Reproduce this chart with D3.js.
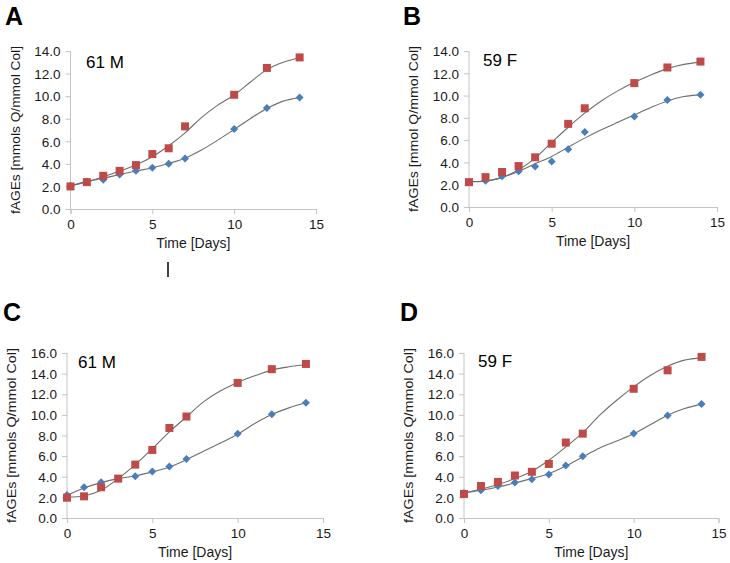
<!DOCTYPE html>
<html><head><meta charset="utf-8">
<script src="https://cdn.jsdelivr.net/npm/d3@7"></script>
<style>body{margin:0;background:#fff}svg{display:block}text{font-family:"Liberation Sans",Arial,sans-serif}</style>
</head><body>
<svg id="c" width="730" height="563"></svg>
<script>
const days = [0,1,2,3,4,5,6,7,10,12,14];
const fitDays = [0,1,2,3,4,5,6,7,8,9,10,11,12,13,14];
const xTicks = [0,5,10,15];
const yTitle = "fAGEs [mmols Q/mmol Col]";
const yTitleB = "fAGEs [mmol Q/mmol Col]";
const xTitle = "Time [Days]";

const aRed  = [2.0, 2.38, 2.94, 3.38, 3.89, 4.87, 5.38, 7.32, 10.12, 12.5, 13.43];
const aBlue = [2.07, 2.44, 2.6, 3.05, 3.38, 3.65, 4.01, 4.48, 7.08, 8.95, 9.88];
const aRedFit  = [2.06, 2.4, 2.86, 3.35, 3.9, 4.63, 5.6, 6.75, 8.1, 9.2, 10.1, 11.25, 12.35, 13.0, 13.4];
const aBlueFit = [2.06, 2.45, 2.72, 3.05, 3.36, 3.66, 4.04, 4.5, 5.22, 6.1, 7.05, 8.02, 8.91, 9.56, 9.87];

const bRed  = [2.23, 2.68, 3.14, 3.67, 4.46, 5.68, 7.46, 8.86, 11.12, 12.52, 13.05];
const bBlue = [2.25, 2.36, 2.75, 3.21, 3.63, 4.08, 5.19, 6.73, 8.13, 9.61, 10.08];
const bRedFit  = [2.3, 2.31, 2.66, 3.34, 4.39, 5.79, 7.16, 8.42, 9.52, 10.42, 11.19, 11.85, 12.42, 12.8, 13.0];
const bBlueFit = [2.3, 2.32, 2.66, 3.19, 3.88, 4.54, 5.37, 6.18, 6.93, 7.61, 8.27, 8.93, 9.52, 9.91, 10.06];

const cRed  = [1.97, 2.1, 2.98, 3.82, 5.18, 6.6, 8.73, 9.84, 13.1, 14.43, 14.94];
const cBlue = [2.22, 2.99, 3.46, 3.83, 4.06, 4.5, 4.99, 5.72, 8.17, 10.06, 11.18];
const cRedFit  = [2.04, 2.14, 2.69, 3.82, 5.18, 6.73, 8.35, 9.81, 11.26, 12.33, 13.14, 13.79, 14.34, 14.66, 14.89];
const cBlueFit = [2.2, 2.91, 3.43, 3.82, 4.08, 4.47, 4.95, 5.66, 6.47, 7.28, 8.12, 9.16, 10.03, 10.68, 11.17];

const dRed  = [2.33, 3.1, 3.5, 4.12, 4.48, 5.24, 7.32, 8.18, 12.53, 14.32, 15.62];
const dBlue = [2.43, 2.7, 3.1, 3.44, 3.75, 4.22, 5.1, 5.99, 8.2, 9.95, 11.06];
const dRedFit  = [2.43, 2.78, 3.24, 3.82, 4.53, 5.6, 6.89, 8.28, 9.97, 11.42, 12.72, 13.85, 14.72, 15.31, 15.53];
const dBlueFit = [2.43, 2.69, 3.01, 3.4, 3.82, 4.3, 5.05, 5.92, 6.78, 7.46, 8.16, 9.06, 9.97, 10.61, 11.04];

const panels = [
  {letter:"A", label:"61 M", title:yTitle,  red:aRed, blue:aBlue, redFit:aRedFit, blueFit:aBlueFit, yMax:14, x0:70.5, x1:316, yT:51, yB:209, lx:5, ly:25, tx:86, ty:68},
  {letter:"B", label:"59 F", title:yTitleB, red:bRed, blue:bBlue, redFit:bRedFit, blueFit:bBlueFit, yMax:14, x0:469, x1:717, yT:51, yB:207, lx:403, ly:25, tx:483, ty:66},
  {letter:"C", label:"61 M", title:yTitle,  red:cRed, blue:cBlue, redFit:cRedFit, blueFit:cBlueFit, yMax:16, x0:67, x1:323, yT:353, yB:518, lx:3, ly:321, tx:78, ty:368},
  {letter:"D", label:"59 F", title:yTitle,  red:dRed, blue:dBlue, redFit:dRedFit, blueFit:dBlueFit, yMax:16, x0:464, x1:718.5, yT:353, yB:518, lx:400, ly:321, tx:478, ty:367}
];

const svg = d3.select("#c");
const axisCol = "#c4c4c4";
const textCol = "#1a1a1a";

panels.forEach(p => {
  const g = svg.append("g");
  const x = d3.scaleLinear().domain([0,15]).range([p.x0, p.x1]);
  const y = d3.scaleLinear().domain([0,p.yMax]).range([p.yB, p.yT]);
  const yTicks = d3.range(0, p.yMax + 0.001, 2);

  const ya = g.append("g").attr("transform", `translate(${p.x0},0)`)
    .call(d3.axisLeft(y).tickValues(yTicks).tickFormat(d3.format(".1f")).tickSize(5).tickPadding(5));
  const xa = g.append("g").attr("transform", `translate(0,${p.yB})`)
    .call(d3.axisBottom(x).tickValues(xTicks).tickSize(5).tickPadding(5));
  [ya, xa].forEach(a => {
    a.select(".domain").attr("stroke", axisCol);
    a.selectAll(".tick line").attr("stroke", axisCol);
    a.selectAll("text").attr("fill", textCol).style("font-size", "13.5px").style("font-family", "'Liberation Sans',Arial,sans-serif");
  });
  ya.select(".domain").attr("d", `M0,${p.yB}V${p.yT}`);
  ya.selectAll(".tick text").attr("dy", "0.35em");

  // titles
  g.append("text").attr("x", (p.x0 + p.x1) / 2).attr("y", p.yB + 39)
    .attr("text-anchor", "middle").attr("fill", textCol).style("font-size", "14px").text(xTitle);
  g.append("text").attr("transform", `translate(${p.x0 - 51},${(p.yT + p.yB) / 2}) rotate(-90)`)
    .attr("text-anchor", "middle").attr("fill", textCol).style("font-size", "13.5px")
    .attr("textLength", p.yB - p.yT + 10).attr("lengthAdjust", "spacingAndGlyphs").text(p.title);

  // panel letter & label
  g.append("text").attr("x", p.lx).attr("y", p.ly).attr("fill", "#000")
    .style("font-size", "25px").style("font-weight", "bold").text(p.letter);
  g.append("text").attr("x", p.tx).attr("y", p.ty).attr("fill", "#000")
    .style("font-size", "17px").text(p.label);

  // fitted curves
  const line = d3.line().x((d, i) => x(fitDays[i])).y(d => y(d)).curve(d3.curveCatmullRom.alpha(0.5));
  [p.redFit, p.blueFit].forEach(f => {
    g.append("path").attr("d", line(f)).attr("fill", "none").attr("stroke", "#6e6e6e").attr("stroke-width", 1.1);
  });

  // blue diamonds
  g.append("g").selectAll("path").data(p.blue).join("path")
    .attr("transform", (d, i) => `translate(${x(days[i])},${y(d)})`)
    .attr("d", "M0,-4L4,0L0,4L-4,0Z").attr("fill", "#4a7ebb");
  // red squares
  g.append("g").selectAll("rect").data(p.red).join("rect")
    .attr("x", (d, i) => x(days[i]) - 4).attr("y", d => y(d) - 4)
    .attr("width", 8).attr("height", 8).attr("fill", "#be4b48");
});

// stray vertical mark under panel A
svg.append("line").attr("x1", 168).attr("x2", 168).attr("y1", 262).attr("y2", 277)
  .attr("stroke", "#000").attr("stroke-width", 1.5);
</script>
</body></html>
